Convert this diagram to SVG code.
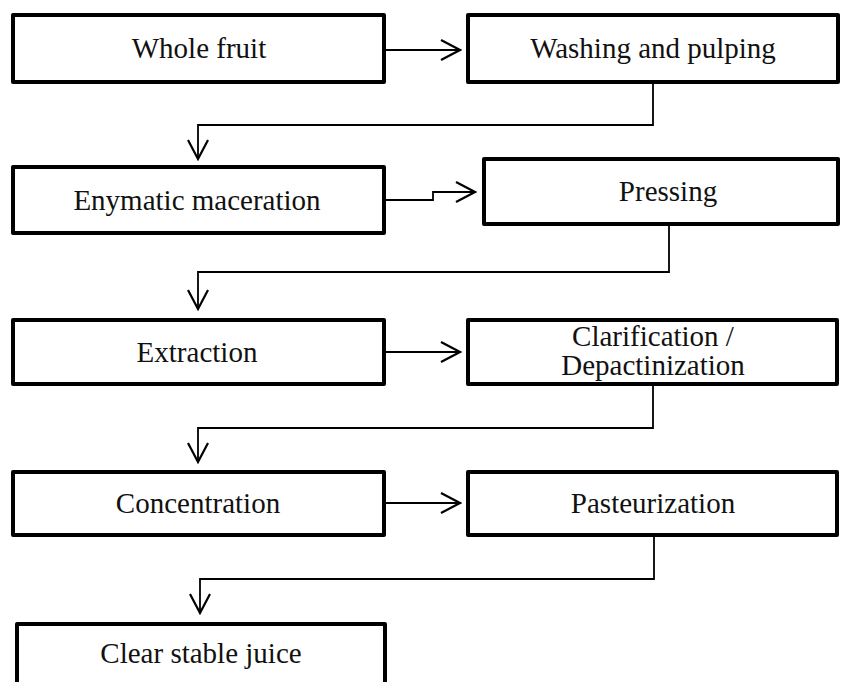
<svg xmlns="http://www.w3.org/2000/svg" width="842" height="682" viewBox="0 0 842 682">
<style>
.box{fill:#fff;stroke:#000;stroke-width:4;stroke-linejoin:round}
.lbl{font-family:'Times New Roman','Liberation Serif',Tinos,'Noto Serif','DejaVu Serif',serif;font-size:29px;fill:#111;text-anchor:middle}
.con{fill:none;stroke:#000;stroke-width:1.8}
</style>
<defs>
<marker id="arr" viewBox="-22 -12 24 24" refX="0" refY="0" markerWidth="24" markerHeight="24" markerUnits="userSpaceOnUse" orient="auto">
<path d="M-19,-10 L0,0 L-19,10" fill="none" stroke="#000" stroke-width="2.2"/>
</marker>
</defs>
<rect width="842" height="682" fill="#fff"/>
<g id="connectors">
<path class="con" d="M386 50 H460" marker-end="url(#arr)"/>
<path class="con" d="M653 84 V125 H198 V159" marker-end="url(#arr)"/>
<path class="con" d="M386 200 H433 V192 H475" marker-end="url(#arr)"/>
<path class="con" d="M669 226 V272 H198 V309" marker-end="url(#arr)"/>
<path class="con" d="M386 352 H460" marker-end="url(#arr)"/>
<path class="con" d="M653 386 V428 H198 V462" marker-end="url(#arr)"/>
<path class="con" d="M386 503 H460" marker-end="url(#arr)"/>
<path class="con" d="M654 537 V579 H200 V613" marker-end="url(#arr)"/>
</g>
<g id="whole-fruit"><rect class="box" x="13" y="15" width="371" height="67"/><text class="lbl" x="199" y="58">Whole fruit</text></g>
<g id="washing"><rect class="box" x="468" y="15" width="370" height="67"/><text class="lbl" x="653" y="58">Washing and pulping</text></g>
<g id="maceration"><rect class="box" x="13" y="167" width="371" height="66"/><text class="lbl" x="197" y="210">Enymatic maceration</text></g>
<g id="pressing"><rect class="box" x="484" y="159" width="354" height="65"/><text class="lbl" x="668" y="201">Pressing</text></g>
<g id="extraction"><rect class="box" x="13" y="320" width="371" height="64"/><text class="lbl" x="197" y="362">Extraction</text></g>
<g id="clarification"><rect class="box" x="468" y="320" width="369" height="64"/><text class="lbl" x="653" y="346">Clarification /</text><text class="lbl" x="653" y="375">Depactinization</text></g>
<g id="concentration"><rect class="box" x="13" y="472" width="371" height="63"/><text class="lbl" x="198" y="513">Concentration</text></g>
<g id="pasteurization"><rect class="box" x="468" y="472" width="369" height="63"/><text class="lbl" x="653" y="513">Pasteurization</text></g>
<g id="clear-juice"><rect class="box" x="17" y="624" width="368" height="70"/><text class="lbl" x="201" y="663">Clear stable juice</text></g>
</svg>
